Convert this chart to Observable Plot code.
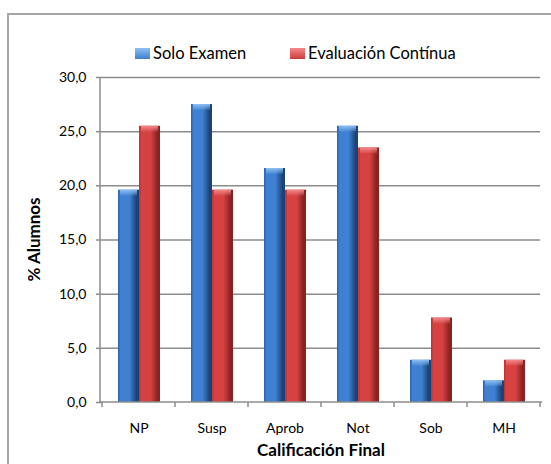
<!DOCTYPE html>
<html>
<head>
<meta charset="utf-8">
<script src="https://cdn.jsdelivr.net/npm/d3@7"></script>
<script src="https://cdn.jsdelivr.net/npm/@observablehq/plot@0.6"></script>
<style>
  html, body { margin: 0; padding: 0; background: #fff; overflow: hidden; width: 551px; height: 464px; }
  #border { position: absolute; left: 0; top: 0; }
  #legend { position: absolute; top: 42px; left: 0; width: 551px; height: 22px; font-family: Lato, "Open Sans", sans-serif; font-size: 16.5px; color: #000; }
  .item { position: absolute; top: 0; display: flex; align-items: center; height: 22px; }
  .sw { width: 15px; height: 11px; margin-right: 3px; }
  #chart { position: absolute; left: 0; top: 65px; width: 551px; height: 399px; overflow: hidden; }
</style>
</head>
<body>
<svg id="border" width="551" height="464"><path d="M8,464V14H551" fill="none" stroke="#a6a6a6" stroke-width="2"/></svg>
<div id="legend"></div>
<div id="chart"></div>
<script>
const categories = ["NP", "Susp", "Aprob", "Not", "Sob", "MH"];
const seriesNames = ["Solo Examen", "Evaluación Contínua"];
const soloExamen = [19.6, 27.5, 21.6, 25.5, 3.9, 2.0];
const evaluacionContinua = [25.5, 19.6, 19.6, 23.5, 7.8, 3.9];
const yTicks = [0, 5, 10, 15, 20, 25, 30];
const xTitle = "Calificación Final";
const yTitle = "% Alumnos";

const seriesColors = {
  "Solo Examen": {edgeL: "#2d60a6", mid: "#3f80d2", edgeR: "#1c4377", cap: "#8cc0f4", swatch: "#3f7fcc"},
  "Evaluación Contínua": {edgeL: "#b93434", mid: "#d64242", edgeR: "#8a2222", cap: "#f48a8a", swatch: "#cc3c3c"}
};

const rows = [];
categories.forEach((c, i) => {
  rows.push({category: c, series: seriesNames[0], value: soloExamen[i]});
  rows.push({category: c, series: seriesNames[1], value: evaluacionContinua[i]});
});

const font = "Lato, 'Open Sans', sans-serif";
const W = 551, H = 399;
const mL = 100, mR = 9, mT = 12, mB = 62;

const barMarks = [];
seriesNames.forEach((s, k) => {
  const data = rows.filter(r => r.series === s);
  barMarks.push(Plot.barY(data, {fx: "category", x: "series", y: "value", fill: `url(#grad${k})`}));
  barMarks.push(Plot.barY(data, {fx: "category", x: "series", y1: "value", y2: "value", insetBottom: -6, insetLeft: 2, insetRight: 2, fill: `url(#cap${k})`}));
});

const plot = Plot.plot({
  width: W, height: H,
  marginLeft: mL, marginRight: mR, marginTop: mT, marginBottom: mB,
  style: {fontFamily: font, background: "transparent", overflow: "hidden"},
  fx: {domain: categories, padding: 0, label: null},
  x: {domain: seriesNames, paddingInner: 0, paddingOuter: 0.71, axis: null},
  y: {domain: [0, 30], axis: null},
  marks: [
    Plot.ruleY(yTicks.slice(1), {y: d => d, stroke: "#8c8c8c", strokeWidth: 1.5}),
    ...barMarks,
    Plot.axisY({ticks: yTicks, tickFormat: d => d.toFixed(1).replace(".", ","), tickSize: 6, tickPadding: 10,
      label: null, fontSize: 14, stroke: "#8c8c8c", strokeWidth: 1.5, color: "#000"}),
    Plot.axisFx({anchor: "bottom", tickSize: 0, tickPadding: 21, fontSize: 14, label: null, color: "#000"})
  ]
});

const svg = plot.tagName.toLowerCase() === "svg" ? plot : plot.querySelector("svg");
const sel = d3.select(svg);
const defs = sel.insert("defs", ":first-child");
seriesNames.forEach((s, k) => {
  const c = seriesColors[s];
  const lg = defs.append("linearGradient").attr("id", `grad${k}`).attr("x1", "0").attr("x2", "1").attr("y1", "0").attr("y2", "0");
  lg.append("stop").attr("offset", "0").attr("stop-color", c.edgeL);
  lg.append("stop").attr("offset", "0.12").attr("stop-color", c.mid);
  lg.append("stop").attr("offset", "0.55").attr("stop-color", c.mid);
  lg.append("stop").attr("offset", "0.88").attr("stop-color", c.edgeR);
  lg.append("stop").attr("offset", "1").attr("stop-color", c.edgeR);
  const cg = defs.append("linearGradient").attr("id", `cap${k}`).attr("x1", "0").attr("x2", "0").attr("y1", "0").attr("y2", "1");
  cg.append("stop").attr("offset", "0").attr("stop-color", c.cap).attr("stop-opacity", 1);
  cg.append("stop").attr("offset", "1").attr("stop-color", c.cap).attr("stop-opacity", 0.1);
});

// axis lines, category boundary ticks and axis titles, placed via the plot's scales
const fxS = plot.scale("fx");
const yS = plot.scale("y");
const x0 = mL, x1 = W - mR;
const yb = yS.apply(0), yt = yS.apply(30);
const bw = fxS.bandwidth != null ? fxS.bandwidth : (x1 - x0) / categories.length;
const edges = categories.map(c => fxS.apply(c));
edges.push(fxS.apply(categories[categories.length - 1]) + bw);
const g = sel.append("g");
g.append("line").attr("x1", x0).attr("x2", x0).attr("y1", yt).attr("y2", yb)
  .attr("stroke", "#8c8c8c").attr("stroke-width", 1.5);
g.append("line").attr("x1", x0).attr("x2", x1).attr("y1", yb).attr("y2", yb)
  .attr("stroke", "#8c8c8c").attr("stroke-width", 1.5);
edges.forEach(e => g.append("line").attr("x1", e).attr("x2", e).attr("y1", yb).attr("y2", yb + 5)
  .attr("stroke", "#8c8c8c").attr("stroke-width", 1.5));
g.append("text").attr("x", (x0 + x1) / 2).attr("y", yb + 54)
  .attr("text-anchor", "middle").attr("font-family", font).attr("font-weight", "bold")
  .attr("font-size", 17).attr("fill", "#000").text(xTitle);
g.append("text").attr("transform", `translate(40, ${(yt + yb) / 2}) rotate(-90)`)
  .attr("text-anchor", "middle").attr("font-family", font).attr("font-weight", "bold")
  .attr("font-size", 17).attr("fill", "#000").text(yTitle);

document.getElementById("chart").appendChild(plot);

// legend
const legend = d3.select("#legend");
const legendX = [135, 290];
seriesNames.forEach((s, k) => {
  const it = legend.append("div").attr("class", "item").style("left", legendX[k] + "px");
  it.append("div").attr("class", "sw").style("background", `linear-gradient(180deg, ${seriesColors[s].cap}, ${seriesColors[s].swatch})`);
  it.append("span").text(s);
});
</script>
</body>
</html>
